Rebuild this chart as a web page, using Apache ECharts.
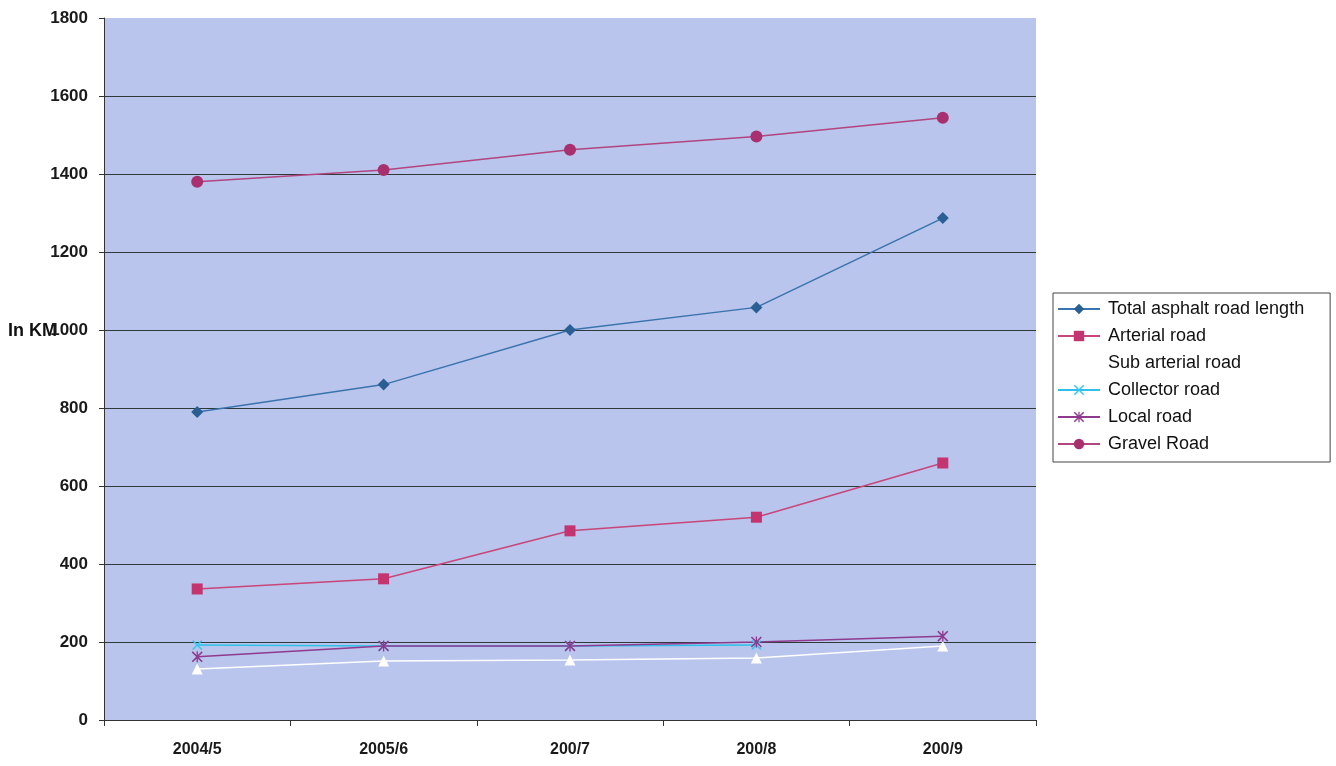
<!DOCTYPE html>
<html>
<head>
<meta charset="utf-8">
<script src="https://cdn.jsdelivr.net/npm/echarts@6/dist/echarts.min.js"></script>
<style>
  html, body { margin: 0; padding: 0; background: #ffffff; }
  #chart { width: 1336px; height: 766px; }
</style>
</head>
<body>
<div id="chart"></div>
<script>
// Road length by type, in km, per fiscal year
const years = ['2004/5', '2005/6', '200/7', '200/8', '200/9'];
const totalAsphalt = [790, 860, 1000, 1058, 1287];
const arterial = [336, 362, 485, 520, 659];
const subArterial = [131, 151, 154, 159, 190];
const collector = [192, 190, 190, 192, null];
const localRoad = [162, 190, 190, 200, 215];
const gravel = [1380, 1410, 1462, 1496, 1544];
const yTicks = { min: 0, max: 1800, interval: 200 };

// Marker shapes drawn as filled outlines
const crossPath = 'path://M0,1 L1,0 L5,4 L9,0 L10,1 L6,5 L10,9 L9,10 L5,6 L1,10 L0,9 L4,5 Z';
const starPath = 'path://M0,1 L1,0 L5,4 L9,0 L10,1 L6,5 L10,9 L9,10 L5,6 L1,10 L0,9 L4,5 Z M4.4,0 L5.6,0 L5.6,10 L4.4,10 Z';

const font = 'Liberation Sans, Arial, sans-serif';

function lineSeries(name, data, color, symbol, size, lineColor) {
  return {
    name: name,
    type: 'line',
    data: data,
    symbol: symbol,
    symbolSize: size,
    connectNulls: false,
    lineStyle: { color: lineColor || color, width: 1.5 },
    itemStyle: { color: color },
    emphasis: { disabled: true },
    z: 3
  };
}

const chart = echarts.init(document.getElementById('chart'), null, { renderer: 'canvas' });
chart.setOption({
  animation: false,
  backgroundColor: '#ffffff',
  grid: {
    left: 104, right: 300, top: 18, bottom: 46,
    show: true, backgroundColor: '#b9c5ec', borderWidth: 0
  },
  legend: {
    orient: 'vertical',
    left: 1053, top: 293,
    itemWidth: 42, itemHeight: 13, itemGap: 9,
    padding: [7, 26, 9, 4],
    borderColor: '#444', borderWidth: 1,
    backgroundColor: '#ffffff',
    textStyle: { fontFamily: font, fontSize: 18, color: '#111', padding: [0, 0, 0, 3] },
    data: ['Total asphalt road length', 'Arterial road', 'Sub arterial road', 'Collector road', 'Local road', 'Gravel Road']
  },
  graphic: [{
    type: 'text', left: 8, top: 322,
    style: { text: 'In KM', font: 'bold 18px ' + font, fill: '#111' }
  }],
  xAxis: {
    type: 'category',
    data: years,
    boundaryGap: true,
    axisLine: { show: true, lineStyle: { color: '#333', width: 1 } },
    axisTick: { show: true, alignWithLabel: false, length: 6, lineStyle: { color: '#333' } },
    axisLabel: { fontFamily: font, fontSize: 16, fontWeight: 'bold', color: '#1a1a1a', margin: 22 },
    splitLine: { show: false }
  },
  yAxis: {
    type: 'value',
    min: yTicks.min, max: yTicks.max, interval: yTicks.interval,
    axisLine: { show: true, lineStyle: { color: '#333', width: 1 } },
    axisTick: { show: true, length: 5, lineStyle: { color: '#333' } },
    axisLabel: {
      fontFamily: font, fontSize: 17, fontWeight: 'bold', color: '#1a1a1a', margin: 16,
      formatter: function (v) { return String(v); }
    },
    splitLine: { show: true, showMaxLine: false, showMinLine: false, lineStyle: { color: '#2e3a3a', width: 1 } }
  },
  series: [
    lineSeries('Total asphalt road length', totalAsphalt, '#2a5f93', 'diamond', 12, '#3a73ad'),
    lineSeries('Arterial road', arterial, '#c4346f', 'rect', 11, '#c8467a'),
    lineSeries('Sub arterial road', subArterial, '#ffffff', 'triangle', 11, '#ffffff'),
    lineSeries('Collector road', collector, '#33c8ee', crossPath, 10, '#2ec0ea'),
    lineSeries('Local road', localRoad, '#8e3a8e', starPath, 11, '#8e3a8e'),
    lineSeries('Gravel Road', gravel, '#a8306e', 'circle', 12, '#b24480')
  ]
});
</script>
</body>
</html>
